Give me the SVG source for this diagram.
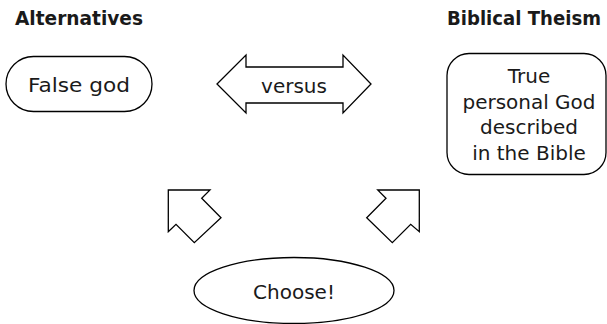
<svg xmlns="http://www.w3.org/2000/svg" width="607" height="324" viewBox="0 0 607 324">
<style>
.shape{fill:#fff;stroke:#000;stroke-width:1.3}
text{font-family:"DejaVu Sans","Liberation Sans",sans-serif;font-size:20px;fill:#1a1a1a;text-anchor:middle}
.head{font-weight:bold;text-anchor:start;font-size:19px}
</style>
<rect width="607" height="324" fill="#fff"/>
<g id="heading-alternatives"><text class="head" x="15" y="25" textLength="128" lengthAdjust="spacingAndGlyphs">Alternatives</text></g>
<g id="heading-theism"><text class="head" x="447" y="25" textLength="154" lengthAdjust="spacingAndGlyphs">Biblical Theism</text></g>
<g id="false-god">
<rect class="shape" x="6" y="56.5" width="146" height="55" rx="27.5"/>
<text x="79" y="92" textLength="102" lengthAdjust="spacingAndGlyphs">False god</text>
</g>
<g id="true-god">
<rect class="shape" x="447" y="53.5" width="159" height="121" rx="22"/>
<text x="529" y="83">True</text>
<text x="529" y="109" textLength="133" lengthAdjust="spacingAndGlyphs">personal God</text>
<text x="529" y="134">described</text>
<text x="529" y="160">in the Bible</text>
</g>
<g id="choose">
<ellipse class="shape" cx="294" cy="290.5" rx="100" ry="33"/>
<text x="294" y="299">Choose!</text>
</g>
<g id="connectors">
<g id="versus">
<path class="shape" d="M217,84 L246,55 L246,67 L343,67 L343,55 L371,84 L343,113 L343,103 L246,103 L246,113 Z"/>
<text x="294" y="93">versus</text>
</g>
<path id="arrow-left" class="shape" d="M168.3,190 L210,190 L201.7,198.3 L221,217.7 L194.3,242.7 L176,224.3 L168.3,231.7 Z"/>
<path id="arrow-right" class="shape" d="M419.3,190 L377.7,190 L386,198.3 L366.7,217.7 L392.3,242.7 L410.7,224.3 L419.3,231.7 Z"/>
</g>
</svg>
